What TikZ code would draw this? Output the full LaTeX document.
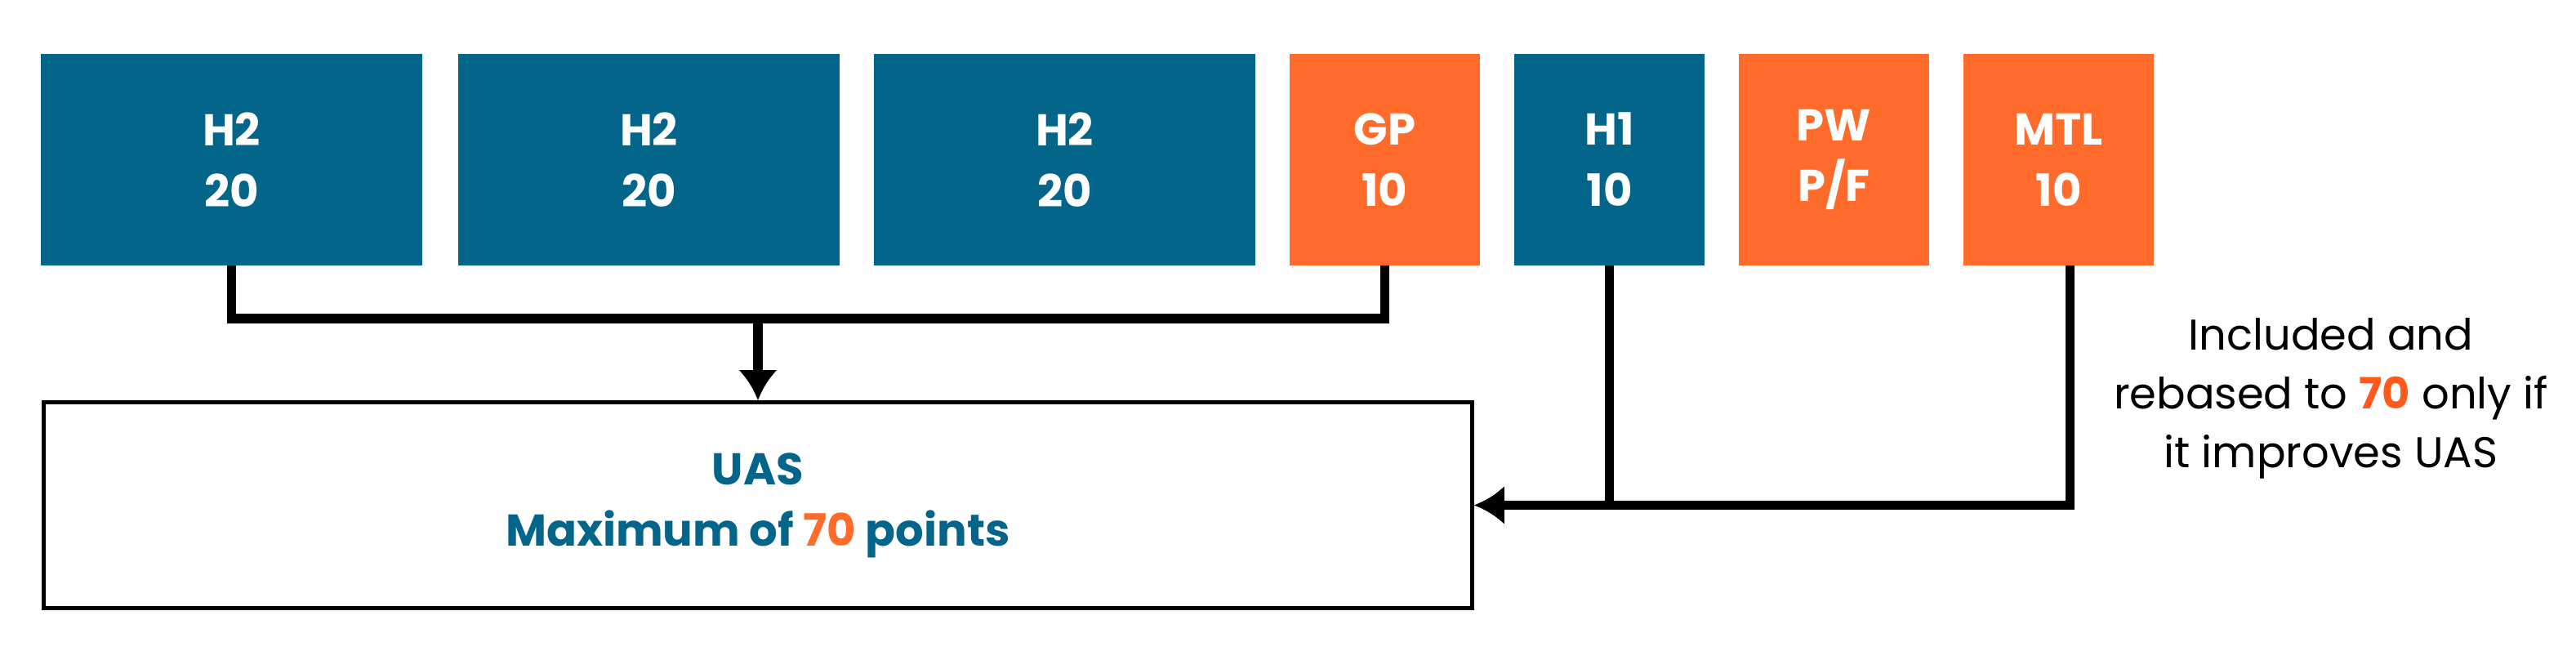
\documentclass[tikz,border=0pt]{standalone}
\usepackage{fontspec}
\setmainfont{Poppins}
\usetikzlibrary{positioning,arrows.meta}
\definecolor{uasteal}{HTML}{03658A}
\definecolor{uasorange}{HTML}{FF6B2B}
\definecolor{hiorange}{HTML}{FF5A1C}
\tikzset{
    part/.style={rectangle, outer sep=0pt, inner sep=0pt, minimum height=2.59cm, align=center,
        text=white, font=\fontsize{15.5}{21.3}\selectfont\bfseries},
    wide/.style={part, fill=uasteal, minimum width=4.67cm},
    narrowteal/.style={part, fill=uasteal, minimum width=2.33cm},
    narroworange/.style={part, fill=uasorange, minimum width=2.33cm},
    link/.style={line width=3.4pt, line join=miter},
    tip/.style={-{Latex[length=0.37cm,width=0.48cm]}},
}
\begin{document}
\begin{tikzpicture}[node distance=0.42cm]
    \useasboundingbox (0,0) rectangle (31.54,8.08);

%top row
    \node[wide, anchor=north west] (h2a) at (0.50,7.42) {H2\\20};
    \node[wide, right=0.44cm of h2a] (h2b) {H2\\20};
    \node[wide, right=of h2b] (h2c) {H2\\20};
    \node[narroworange, right=of h2c] (gp) {GP\\10};
    \node[narrowteal, right=of gp] (h1) {H1\\10};
    \node[narroworange, right=of h1] (pw) {PW\\P/F};
    \node[narroworange, right=of pw] (mtl) {MTL\\10};

%uas
    \node[draw, line width=1.4pt, minimum width=17.49cm, minimum height=2.52cm, align=center,
        text=uasteal, font=\fontsize{15.5}{21.3}\selectfont\bfseries] (uas) at (9.28,1.895)
        {UAS\\Maximum of \textcolor{uasorange}{70} points};

%note
    \node[align=center, font=\fontsize{15}{20.5}\selectfont] (note) at (28.54,3.2)
        {Included and\\rebased to \textbf{\textcolor{hiorange}{70}} only if\\it improves UAS};

%bus
    \coordinate (busy) at (0,4.18);
    \draw[link] (h2a.south) -- (h2a.south |- busy) -- (gp.south |- busy) -- (gp.south);
    \draw[link, tip] (uas.north |- busy) -- (uas.north);

%best of
    \coordinate (mtlout) at ([xshift=0.14cm]mtl.south);
    \draw[link, tip] (mtlout) |- (uas.east);
    \draw[link] (h1.south) -- (h1.south |- uas.east);

\end{tikzpicture}
\end{document}
